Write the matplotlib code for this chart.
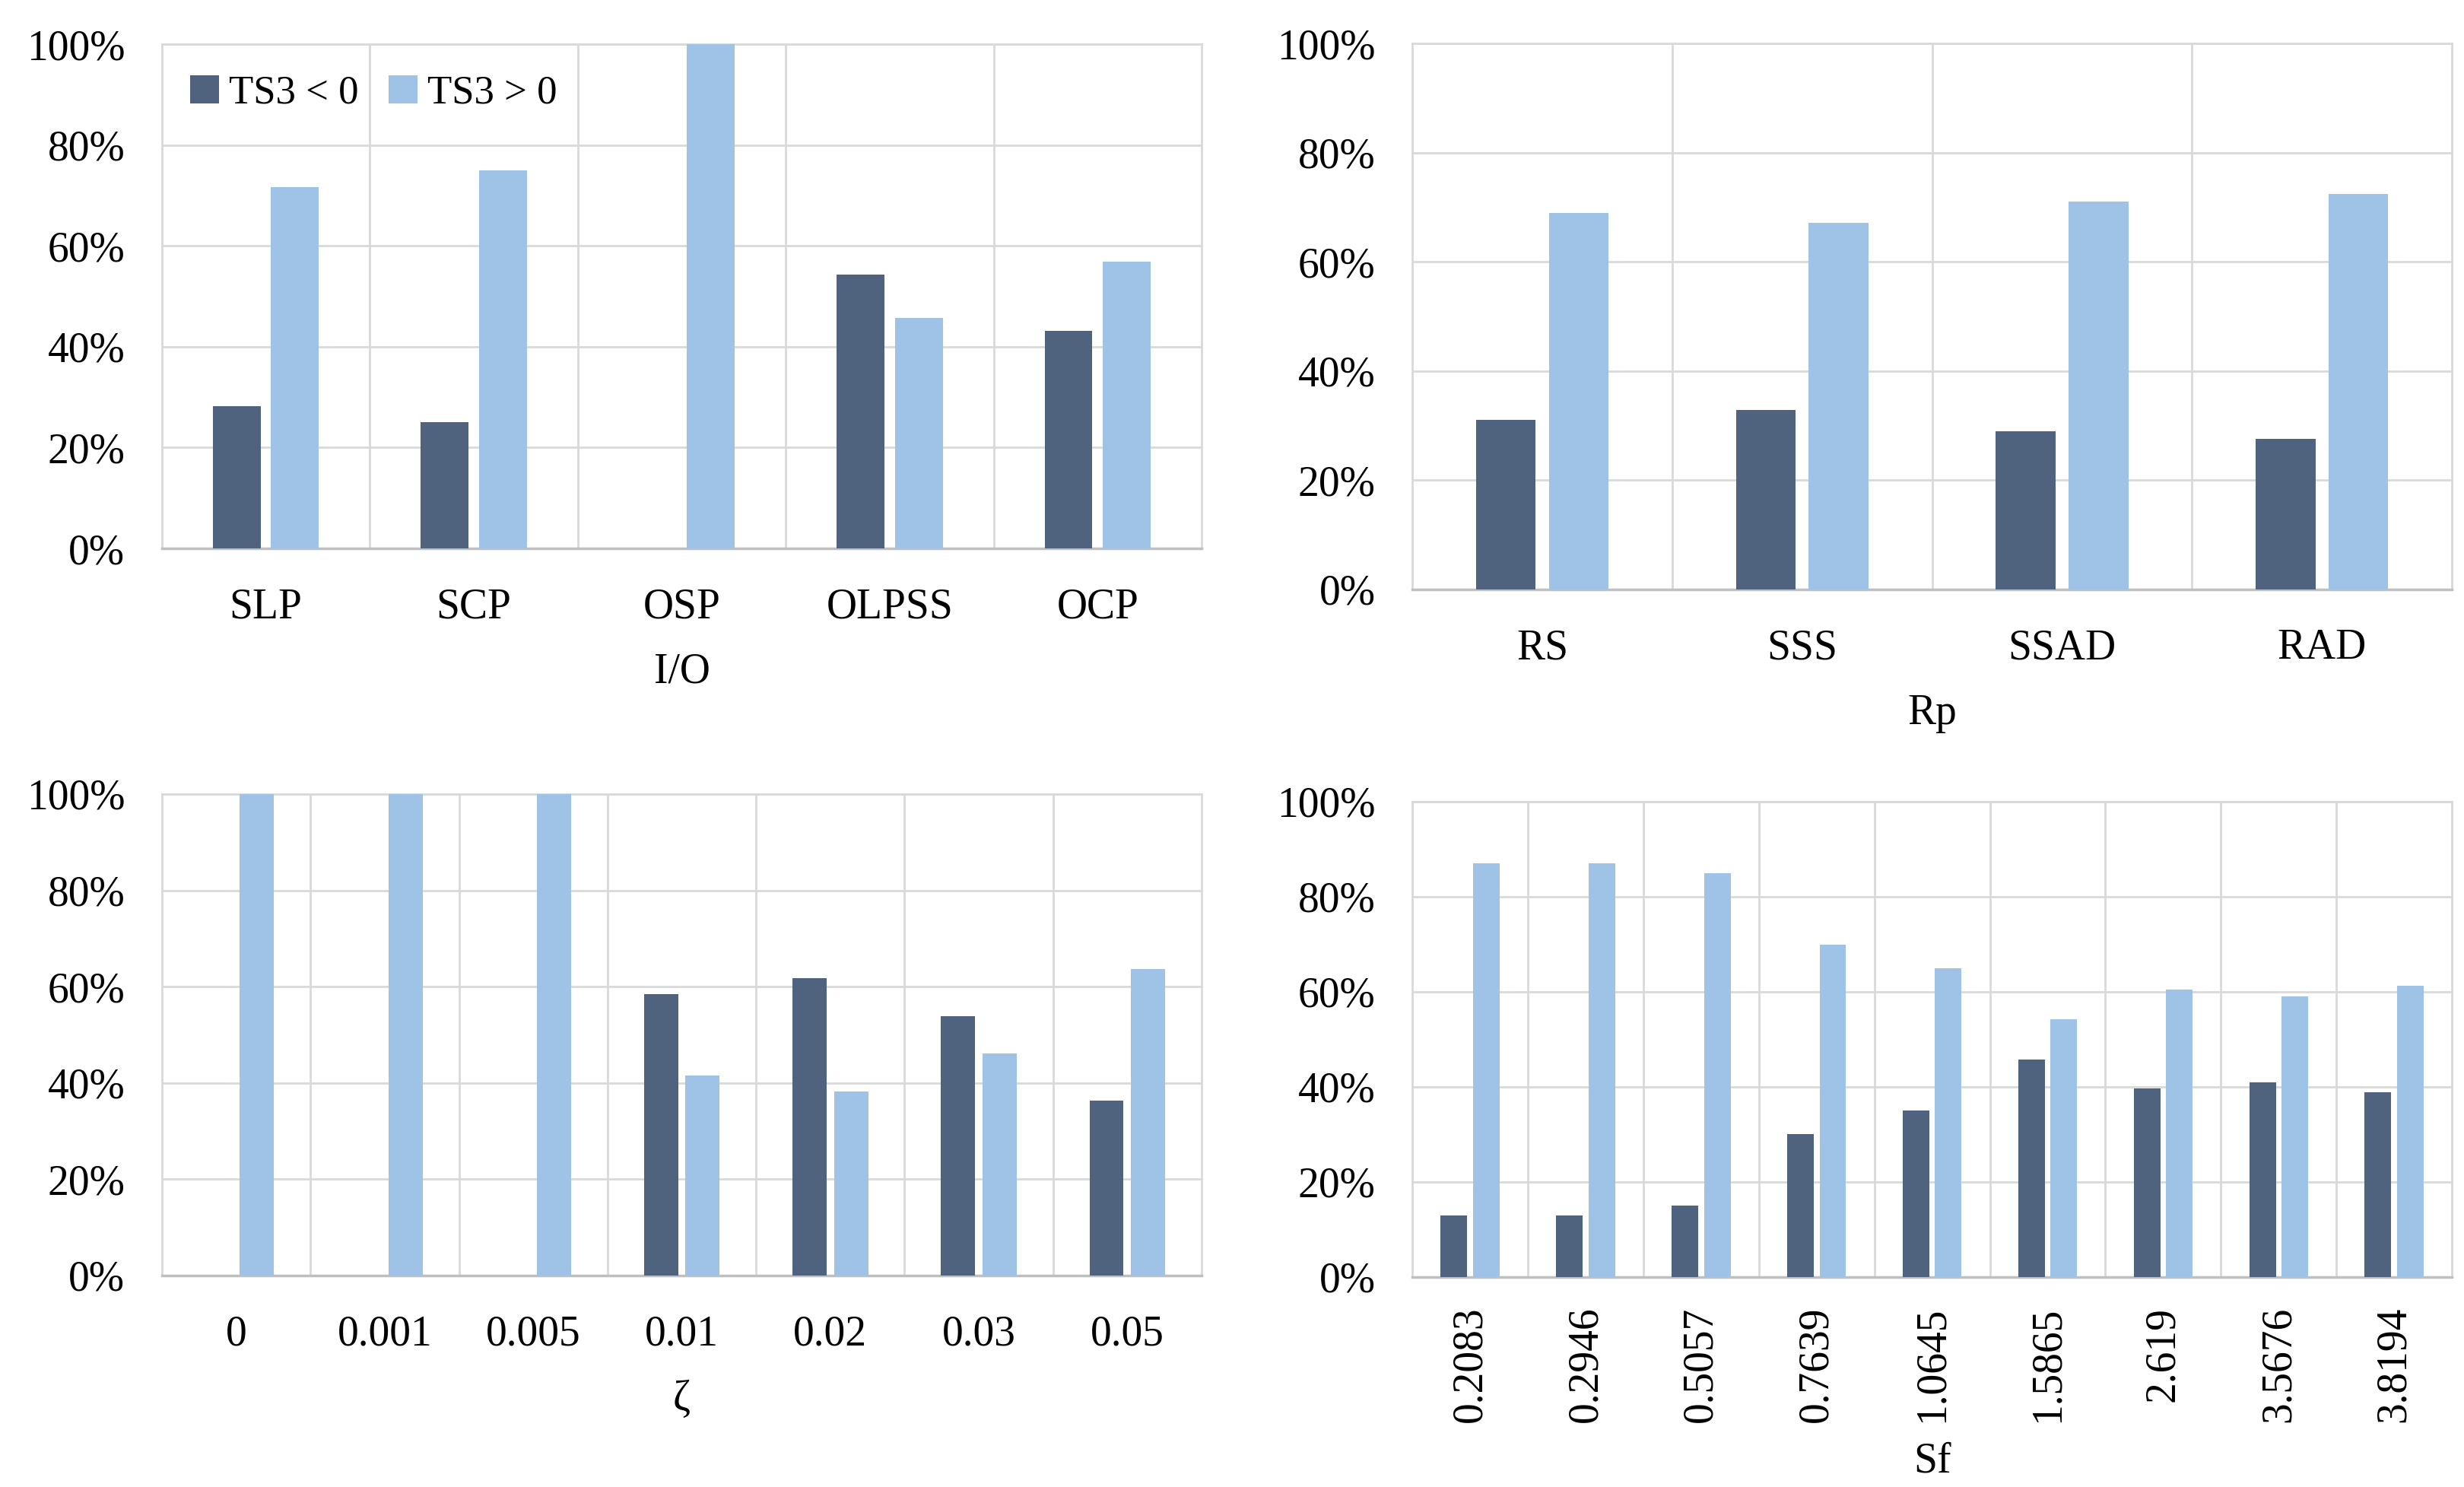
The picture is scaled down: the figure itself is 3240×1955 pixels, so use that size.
import matplotlib
matplotlib.use('Agg')
import matplotlib.pyplot as plt
import numpy as np
from matplotlib.ticker import PercentFormatter, FixedLocator

plt.rcParams['font.family'] = ['Liberation Serif', 'DejaVu Serif']

# dane
io_cats = ['SLP', 'SCP', 'OSP', 'OLPSS', 'OCP']
io_neg = [28.3, 25.0, 0.0, 54.3, 43.1]
io_pos = [71.7, 75.0, 100.0, 45.7, 56.9]

rp_cats = ['RS', 'SSS', 'SSAD', 'RAD']
rp_neg = [31.0, 32.8, 28.9, 27.6]
rp_pos = [69.0, 67.2, 71.1, 72.4]

zeta_cats = ['0', '0.001', '0.005', '0.01', '0.02', '0.03', '0.05']
zeta_neg = [0.0, 0.0, 0.0, 58.4, 61.8, 53.9, 36.4]
zeta_pos = [100.0, 100.0, 100.0, 41.6, 38.2, 46.1, 63.6]

sf_cats = ['0.2083', '0.2946', '0.5057', '0.7639', '1.0645', '1.5865', '2.619', '3.5676', '3.8194']
sf_neg = [13.0, 13.0, 15.1, 30.1, 35.1, 45.8, 39.6, 40.9, 38.8]
sf_pos = [87.0, 87.0, 84.9, 69.9, 64.9, 54.2, 60.4, 59.1, 61.2]

dark = '#50637e'
light = '#9fc3e7'
grid_c = '#d9d9d9'
fs = 40

fig = plt.figure(figsize=(32.41, 19.55), dpi=100)


def panel(rect, cats, neg, pos, xlabel, rotate=False, legend=False, tpad=37, lpad=24):
    ax = fig.add_axes(rect)
    x = np.arange(len(cats))
    w = 0.23
    ax.bar(x - 0.14, neg, w, color=dark, label='TS3 < 0', zorder=3)
    ax.bar(x + 0.14, pos, w, color=light, label='TS3 > 0', zorder=3)
    ax.set_xlim(-0.5, len(cats) - 0.5)
    ax.set_ylim(0, 100)
    ax.set_yticks([0, 20, 40, 60, 80, 100])
    ax.yaxis.set_major_formatter(PercentFormatter(xmax=100, decimals=0))
    ax.set_xticks(x)
    ax.set_xticklabels(cats, rotation=90 if rotate else 0)
    # pionowe linie siatki miedzy kategoriami
    ax.xaxis.set_minor_locator(FixedLocator(np.arange(0.5, len(cats) - 0.5, 1)))
    ax.grid(axis='y', which='major', color=grid_c, linewidth=2, zorder=0)
    ax.grid(axis='x', which='minor', color=grid_c, linewidth=2, zorder=0)
    ax.tick_params(axis='both', which='both', length=0, labelsize=fs)
    ax.tick_params(axis='y', pad=35)
    ax.tick_params(axis='x', pad=tpad)
    for s in ['top', 'right', 'left']:
        ax.spines[s].set_color(grid_c)
        ax.spines[s].set_linewidth(2)
    ax.spines['bottom'].set_color('#bfbfbf')
    ax.spines['bottom'].set_linewidth(2.5)
    ax.set_xlabel(xlabel, fontsize=fs, labelpad=lpad)
    if legend:
        ax.legend(loc='upper left', frameon=False, fontsize=38, ncol=2,
                  handlelength=0.72, handleheight=0.72, handletextpad=0.25,
                  columnspacing=0.75, borderaxespad=0.3, bbox_to_anchor=(0.0, 0.995))
    return ax


panel([0.0657, 0.6312, 0.4218, 0.3389], io_cats, io_neg, io_pos, 'I/O', legend=True)
panel([0.573, 0.6036, 0.4218, 0.3672], rp_cats, rp_neg, rp_pos, 'Rp')
panel([0.0657, 0.1422, 0.4218, 0.3238], zeta_cats, zeta_neg, zeta_pos, 'ζ')
panel([0.573, 0.1412, 0.4218, 0.3197], sf_cats, sf_neg, sf_pos, 'Sf', rotate=True, tpad=28, lpad=18)

fig.savefig('out.png', dpi=100)
